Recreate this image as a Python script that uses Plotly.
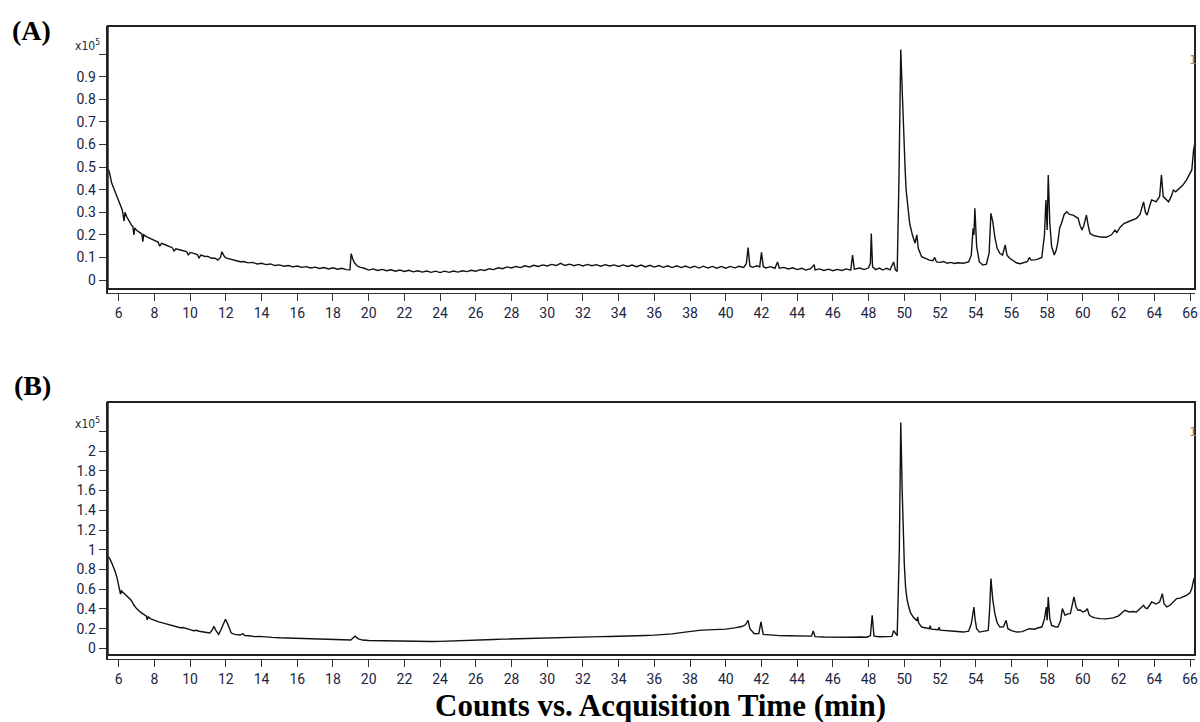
import plotly.graph_objects as go

# ---------------- data (counts in units of 1e5) ----------------
A_time = [
    5.42, 5.5, 5.6, 5.7, 5.8, 5.9, 6.0, 6.1, 6.2, 6.3, 6.35, 6.45, 6.6, 6.7, 6.8, 6.85, 6.9, 7.0,
    7.15, 7.3, 7.35, 7.4, 7.55, 7.7, 7.85, 8.0, 8.2, 8.3, 8.4, 8.6, 8.8, 9.0, 9.1, 9.2, 9.4, 9.6,
    9.8, 9.9, 10.0, 10.2, 10.4, 10.5, 10.6, 10.8, 11.0, 11.2, 11.4, 11.55, 11.7, 11.78, 11.9, 12.0,
    12.2, 12.4, 12.6, 12.8, 13.0, 13.25, 13.5, 13.75, 14.0, 14.25, 14.5, 14.75, 15.0, 15.25, 15.5,
    15.75, 16.0, 16.25, 16.5, 16.75, 17.0, 17.25, 17.5, 17.75, 18.0, 18.25, 18.5, 18.75, 18.95,
    19.02, 19.1, 19.2, 19.35, 19.5,
    19.75, 20.0, 20.25, 20.5, 20.75, 21.0, 21.25, 21.5, 21.75, 22.0, 22.25, 22.5, 22.75, 23.0,
    23.25, 23.5, 23.75, 24.0, 24.25, 24.5, 24.75, 25.0, 25.25, 25.5, 25.75, 26.0, 26.25, 26.5,
    26.75, 27.0, 27.25, 27.5, 27.75, 28.0, 28.25, 28.5, 28.75, 29.0, 29.25, 29.5, 29.75, 30.0,
    30.25, 30.5, 30.75, 31.0, 31.25, 31.5, 31.75, 32.0, 32.25, 32.5, 32.75, 33.0, 33.25, 33.5,
    33.75, 34.0, 34.25, 34.5, 34.75, 35.0, 35.25, 35.5, 35.75, 36.0, 36.25, 36.5, 36.75, 37.0,
    37.25, 37.5, 37.75, 38.0, 38.25, 38.5, 38.75, 39.0, 39.25, 39.5, 39.75, 40.0, 40.25, 40.5,
    40.75, 41.0, 41.15, 41.25, 41.35, 41.5, 41.75, 41.9, 42.0, 42.1, 42.25, 42.5, 42.75, 42.9,
    43.0, 43.25, 43.5, 43.75, 44.0, 44.25, 44.5, 44.75, 44.95, 45.0, 45.25, 45.5, 45.75, 46.0,
    46.25, 46.5, 46.75, 47.0, 47.1, 47.2, 47.5, 47.75, 48.0, 48.1, 48.15, 48.22, 48.4, 48.6,
    48.8, 49.0, 49.2, 49.4, 49.5, 49.6, 49.7, 49.8, 49.9, 49.95, 50.05, 50.1, 50.2, 50.3, 50.45,
    50.6, 50.7, 50.78, 50.97, 51.2, 51.4, 51.6, 51.7, 51.8, 52.0, 52.2, 52.4, 52.6, 52.8, 53.0,
    53.3, 53.6, 53.75, 53.85, 53.9, 53.95, 54.05, 54.2, 54.4, 54.6, 54.75, 54.85, 54.95, 55.07,
    55.2, 55.35, 55.5, 55.65, 55.75, 55.9, 56.1, 56.3, 56.5, 56.7, 56.9, 57.0, 57.1, 57.4, 57.7,
    57.85, 57.93, 58.0, 58.06, 58.15, 58.25, 58.4, 58.5, 58.6, 58.7, 58.8, 58.95, 59.1, 59.25,
    59.45, 59.6, 59.73, 59.85, 59.95, 60.05, 60.2, 60.3, 60.4, 60.6, 60.8, 61.0, 61.3, 61.6,
    61.8, 61.9, 62.1, 62.3, 62.6, 62.8, 63.0, 63.2, 63.4, 63.5, 63.6, 63.75, 63.85, 64.0, 64.1,
    64.3, 64.4, 64.5, 64.65, 64.8, 64.95, 65.07, 65.2, 65.4, 65.6, 65.8, 66.0, 66.1, 66.2, 66.3,
]
A_counts = [
    0.49, 0.47, 0.43, 0.41, 0.385, 0.365, 0.35, 0.33, 0.31, 0.26, 0.30, 0.28, 0.255, 0.245, 0.235, 0.20, 0.23, 0.22,
    0.212, 0.203, 0.17, 0.20, 0.192, 0.186, 0.18, 0.176, 0.168, 0.15, 0.162, 0.156, 0.15, 0.143, 0.128, 0.138, 0.134, 0.13,
    0.126, 0.11, 0.122, 0.118, 0.113, 0.098, 0.11, 0.105, 0.104, 0.096, 0.097, 0.088, 0.10, 0.125, 0.106, 0.098,
    0.094, 0.089, 0.087, 0.081, 0.082, 0.076, 0.078, 0.071, 0.074, 0.068, 0.071, 0.064, 0.067, 0.061, 0.064,
    0.058, 0.062, 0.056, 0.059, 0.053, 0.057, 0.051, 0.055, 0.049, 0.054, 0.048, 0.052, 0.046, 0.045,
    0.117, 0.095, 0.076, 0.063, 0.057,
    0.052, 0.044, 0.049, 0.042, 0.047, 0.041, 0.045, 0.039, 0.044, 0.038, 0.043, 0.036, 0.041, 0.035,
    0.040, 0.034, 0.039, 0.033, 0.039, 0.034, 0.040, 0.035, 0.041, 0.037, 0.043, 0.039, 0.046, 0.042,
    0.050, 0.046, 0.054, 0.050, 0.058, 0.053, 0.060, 0.055, 0.063, 0.058, 0.065, 0.060, 0.067, 0.062,
    0.069, 0.064, 0.074, 0.064, 0.070, 0.063, 0.069, 0.062, 0.069, 0.063, 0.068, 0.061, 0.068, 0.062,
    0.067, 0.060, 0.067, 0.060, 0.066, 0.059, 0.066, 0.058, 0.065, 0.057, 0.064, 0.056, 0.063, 0.055,
    0.063, 0.055, 0.062, 0.054, 0.061, 0.053, 0.061, 0.053, 0.060, 0.052, 0.060, 0.052, 0.060, 0.054,
    0.061, 0.056, 0.072, 0.143, 0.062, 0.056, 0.063, 0.058, 0.122, 0.060, 0.053, 0.059, 0.052, 0.080,
    0.052, 0.056, 0.049, 0.054, 0.046, 0.052, 0.044, 0.050, 0.068, 0.045, 0.049, 0.042, 0.048, 0.041,
    0.047, 0.042, 0.049, 0.044, 0.110, 0.048, 0.053, 0.046, 0.054, 0.075, 0.206, 0.058, 0.046, 0.053,
    0.044, 0.052, 0.045, 0.080, 0.045, 0.038, 0.45, 1.02, 0.80, 0.66, 0.48, 0.40, 0.31, 0.25, 0.20,
    0.163, 0.20, 0.14, 0.103, 0.094, 0.088, 0.085, 0.10, 0.08, 0.078, 0.082, 0.074, 0.078, 0.073, 0.076,
    0.074, 0.08, 0.11, 0.229, 0.20, 0.317, 0.15, 0.08, 0.066, 0.07, 0.12, 0.295, 0.26, 0.19,
    0.14, 0.118, 0.11, 0.155, 0.11, 0.096, 0.085, 0.075, 0.072, 0.078, 0.082, 0.10, 0.088, 0.09, 0.10,
    0.20, 0.354, 0.221, 0.465, 0.25, 0.147, 0.111, 0.13, 0.168, 0.23, 0.25, 0.29, 0.302, 0.29,
    0.287, 0.28, 0.273, 0.24, 0.221, 0.24, 0.287, 0.24, 0.206, 0.197, 0.192, 0.19, 0.189, 0.20,
    0.221, 0.21, 0.235, 0.25, 0.26, 0.265, 0.273, 0.29, 0.346, 0.30, 0.287, 0.33, 0.354, 0.35, 0.346,
    0.37, 0.465, 0.369, 0.355, 0.346, 0.37, 0.398, 0.39, 0.406, 0.42, 0.442, 0.47, 0.487, 0.575, 0.62,
]

B_time = [
    5.42, 5.5, 5.6, 5.7, 5.8, 5.9, 6.0, 6.05, 6.1, 6.15, 6.3, 6.5, 6.7, 6.85, 7.0, 7.2, 7.4, 7.55,
    7.6, 7.65, 7.8, 7.97, 8.2, 8.4, 8.66, 8.9, 9.1, 9.3, 9.45, 9.6, 9.8, 10.0, 10.2, 10.35, 10.5,
    10.7, 10.9, 11.1, 11.25, 11.33, 11.45, 11.6, 11.75, 11.9, 11.98, 12.1, 12.3, 12.5, 12.8, 12.96,
    13.05, 13.3, 13.6, 13.9, 14.25, 14.6, 15.0, 15.4, 15.8, 16.1, 16.5, 17.0, 17.5, 17.97, 18.5,
    19.0, 19.15, 19.24, 19.4, 19.65, 20.0, 20.5, 21.0, 21.5, 22.0, 22.5, 23.0, 23.5, 24.0, 24.5,
    25.0, 25.5, 26.0, 26.5, 27.0, 27.5, 28.0, 28.5, 29.0, 29.5, 30.0, 30.5, 31.0, 31.5, 32.0, 32.5,
    33.0, 33.5, 34.0, 34.5, 35.0, 35.5, 36.0, 36.5, 37.0, 37.5, 38.0, 38.5, 39.0, 39.5, 40.0, 40.5,
    40.9, 41.1, 41.25, 41.35, 41.6, 41.85, 41.97, 42.1, 42.5, 43.0, 43.5, 44.0, 44.5, 44.8, 44.9,
    45.0, 45.5, 46.0, 46.5, 47.0, 47.5, 47.9, 48.1, 48.2, 48.3, 48.6, 49.0, 49.3, 49.4, 49.6,
    49.72, 49.8, 49.88, 49.94, 50.0, 50.07, 50.15, 50.25, 50.35, 50.5, 50.7, 50.75, 50.8, 50.97,
    51.2, 51.4, 51.45, 51.5, 51.9, 51.95, 52.0, 52.4, 52.8, 53.3, 53.6, 53.75, 53.82, 53.9, 53.96,
    54.05, 54.2, 54.5, 54.7, 54.78, 54.85, 54.95, 55.07, 55.2, 55.35, 55.55, 55.7, 55.8, 56.0,
    56.3, 56.6, 57.0, 57.3, 57.5, 57.7, 57.85, 57.95, 58.0, 58.06, 58.15, 58.25, 58.45, 58.6,
    58.75, 58.85, 59.0, 59.15, 59.3, 59.42, 59.5, 59.62, 59.73, 59.85, 60.0, 60.15, 60.25, 60.35,
    60.5, 60.7, 60.95, 61.3, 61.7, 62.0, 62.2, 62.35, 62.6, 62.8, 63.0, 63.2, 63.4, 63.5, 63.6,
    63.75, 63.85, 64.0, 64.1, 64.3, 64.45, 64.55, 64.7, 64.9, 65.05, 65.25, 65.45, 65.6, 65.8,
    66.0, 66.1, 66.2, 66.3,
]
B_counts = [
    0.93, 0.91, 0.87, 0.83, 0.78, 0.72, 0.63, 0.59, 0.55, 0.585, 0.556, 0.52, 0.488, 0.44, 0.404, 0.37, 0.34, 0.326,
    0.29, 0.32, 0.30, 0.285, 0.272, 0.262, 0.251, 0.24, 0.23, 0.222, 0.21, 0.212, 0.198, 0.19, 0.18, 0.184, 0.174,
    0.168, 0.16, 0.156, 0.19, 0.224, 0.18, 0.142, 0.20, 0.275, 0.295, 0.25, 0.156, 0.142, 0.136, 0.15,
    0.13, 0.128, 0.12, 0.122, 0.115, 0.112, 0.108, 0.106, 0.10, 0.098, 0.096, 0.092, 0.09, 0.088, 0.087,
    0.086, 0.11, 0.125, 0.10, 0.085, 0.08, 0.078, 0.077, 0.075, 0.075, 0.073, 0.072, 0.071, 0.072, 0.074,
    0.078, 0.082, 0.086, 0.089, 0.091, 0.094, 0.097, 0.099, 0.102, 0.105, 0.108, 0.111, 0.114, 0.116, 0.118, 0.119,
    0.12, 0.121, 0.122, 0.124, 0.127, 0.131, 0.135, 0.14, 0.148, 0.16, 0.172, 0.183, 0.188, 0.192, 0.196, 0.208,
    0.222, 0.24, 0.285, 0.20, 0.149, 0.15, 0.268, 0.142, 0.135, 0.13, 0.128, 0.124, 0.122, 0.125, 0.176,
    0.12, 0.116, 0.114, 0.115, 0.113, 0.116, 0.114, 0.13, 0.336, 0.125, 0.118, 0.12, 0.122, 0.18, 0.13,
    1.0, 2.29, 1.6, 1.17, 0.85, 0.62, 0.50, 0.42, 0.36, 0.318, 0.28, 0.32, 0.26, 0.217,
    0.205, 0.20, 0.23, 0.195, 0.19, 0.215, 0.185, 0.183, 0.175, 0.166, 0.175, 0.25, 0.353, 0.42, 0.30,
    0.20, 0.166, 0.18, 0.183, 0.40, 0.709, 0.50, 0.353, 0.26, 0.217, 0.22, 0.285, 0.20, 0.18,
    0.166, 0.17, 0.20, 0.195, 0.21, 0.217, 0.30, 0.42, 0.285, 0.522, 0.30, 0.234, 0.22, 0.217,
    0.28, 0.404, 0.336, 0.35, 0.353, 0.45, 0.522, 0.42, 0.387, 0.39, 0.37, 0.38, 0.404, 0.34,
    0.319, 0.31, 0.302, 0.30, 0.31, 0.33, 0.36, 0.387, 0.37, 0.375, 0.37, 0.40, 0.438, 0.41, 0.404,
    0.44, 0.472, 0.46, 0.45, 0.47, 0.556, 0.45, 0.421, 0.44, 0.47, 0.505, 0.51, 0.52, 0.539,
    0.565, 0.607, 0.692, 0.74,
]

x_ticks = list(range(6, 67, 2))
A_yticks = [0, 0.1, 0.2, 0.3, 0.4, 0.5, 0.6, 0.7, 0.8, 0.9, 1.0]
A_ylabels = ["0", "0.1", "0.2", "0.3", "0.4", "0.5", "0.6", "0.7", "0.8", "0.9", ""]
B_yticks = [0, 0.2, 0.4, 0.6, 0.8, 1.0, 1.2, 1.4, 1.6, 1.8, 2.0, 2.2]
B_ylabels = ["0", "0.2", "0.4", "0.6", "0.8", "1", "1.2", "1.4", "1.6", "1.8", "2", ""]

# ---------------- figure ----------------
W, H = 1200, 722

def px(x):
    return x / W

def py(y):
    return 1 - y / H

LINE = dict(color="#111111", width=1.4)
TICKFONT = dict(family="Roboto, DejaVu Sans, sans-serif", size=14, color="#1b2440")

fig = go.Figure()
fig.add_trace(go.Scatter(x=A_time, y=A_counts, mode="lines", line=LINE,
                         xaxis="x", yaxis="y", showlegend=False, hoverinfo="skip"))
fig.add_trace(go.Scatter(x=B_time, y=B_counts, mode="lines", line=LINE,
                         xaxis="x2", yaxis="y2", showlegend=False, hoverinfo="skip"))

x_dom = [px(108), px(1198)]
A_dom = [py(293), py(26)]
B_dom = [py(659), py(402)]

def xaxis_cfg(anchor):
    return dict(domain=x_dom, range=[5.385, 66.28], anchor=anchor,
                tickmode="array", tickvals=x_ticks, ticktext=[str(v) for v in x_ticks],
                ticks="outside", ticklen=7, tickwidth=1, tickcolor="#333333",
                ticklabeloverflow="allow",
                showline=True, linecolor="#333333", linewidth=1, mirror=False,
                showgrid=False, zeroline=False, tickfont=TICKFONT, fixedrange=True)

def yaxis_cfg(anchor, dom, rng, vals, labels):
    return dict(domain=dom, range=rng, anchor=anchor,
                tickmode="array", tickvals=vals, ticktext=labels,
                ticks="outside", ticklen=7, tickwidth=1, tickcolor="#333333",
                showline=True, linecolor="#222222", linewidth=2, mirror=False,
                showgrid=False, zeroline=False, tickfont=TICKFONT, fixedrange=True)

fig.update_layout(
    width=W, height=H, margin=dict(l=0, r=0, t=0, b=0),
    paper_bgcolor="white", plot_bgcolor="white",
    xaxis=xaxis_cfg("y"),
    yaxis=yaxis_cfg("x", A_dom, [-0.0575, 1.124], A_yticks, A_ylabels),
    xaxis2=xaxis_cfg("y2"),
    yaxis2=yaxis_cfg("x2", B_dom, [-0.107, 2.498], B_yticks, B_ylabels),
)

# frames (inner box above the tick line, giving the double bottom rule)
for xr, yr, gap in (("x domain", "y domain", 4 / 267), ("x2 domain", "y2 domain", 4 / 257)):
    fig.add_shape(type="rect", xref=xr, yref=yr, x0=0, x1=1, y0=gap, y1=1,
                  line=dict(color="#222222", width=2), fillcolor="rgba(0,0,0,0)", layer="above")

SERIF = "Liberation Serif, Times New Roman, serif"
ann = []
ann.append(dict(text="<b>(A)</b>", x=px(10), y=py(30), xref="paper", yref="paper",
                xanchor="left", yanchor="middle", showarrow=False,
                font=dict(family=SERIF, size=28, color="black")))
ann.append(dict(text="<b>(B)</b>", x=px(12), y=py(385), xref="paper", yref="paper",
                xanchor="left", yanchor="middle", showarrow=False,
                font=dict(family=SERIF, size=28, color="black")))
ann.append(dict(text="<b>Counts vs. Acquisition Time (min)</b>", x=px(662), y=py(705),
                xref="paper", yref="paper", xanchor="center", yanchor="middle", showarrow=False,
                font=dict(family=SERIF, size=31, color="black")))
for yy in (45, 423):
    ann.append(dict(text="x10<sup>5</sup>", x=px(102), y=py(yy), xref="paper", yref="paper",
                    xanchor="right", yanchor="middle", showarrow=False,
                    font=dict(family="DejaVu Sans Condensed, DejaVu Sans, sans-serif", size=12, color="#1b2440")))
for yy in (60, 432):
    ann.append(dict(text="1", x=px(1190), y=py(yy), xref="paper", yref="paper",
                    xanchor="left", yanchor="middle", showarrow=False,
                    font=dict(family="DejaVu Sans, sans-serif", size=13, color="#888888")))
fig.update_layout(annotations=ann)

# remove the default 8px page margin so the 1200x722 figure fills the window exactly
fig.write_html("out.html", config={"displayModeBar": False},
               post_script="document.body.style.margin='0';document.body.style.overflow='hidden';")
